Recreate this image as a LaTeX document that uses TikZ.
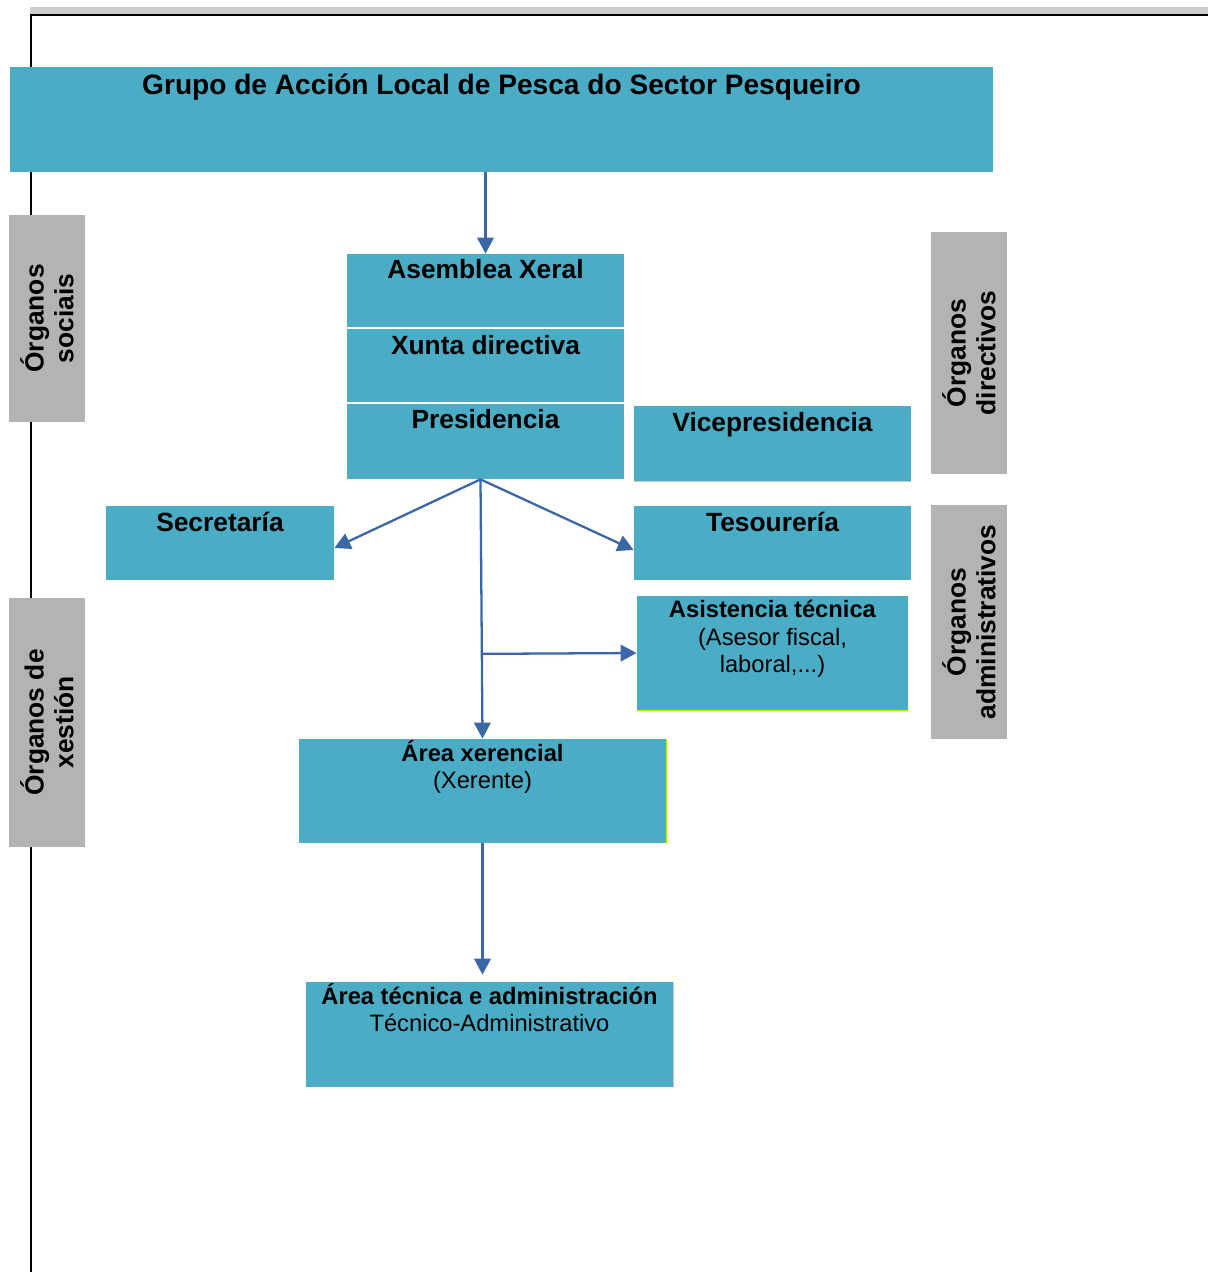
\documentclass[tikz,border=0pt]{standalone}
\usepackage{fontspec}
\setmainfont{Liberation Sans}
\usetikzlibrary{arrows.meta,positioning,fit,calc}
\definecolor{cbox}{HTML}{4BACC6}
\definecolor{cside}{HTML}{B3B3B3}
\definecolor{cbar}{HTML}{CCCCCC}
\definecolor{carrow}{HTML}{3A67A8}
\definecolor{cedge}{HTML}{C4F000}
\tikzset{
  box/.style={fill=cbox, inner sep=0pt},
  side/.style={fill=cside, inner sep=0pt},
  title/.style={font=\fontsize{16}{19}\selectfont\bfseries, inner sep=0pt},
  head/.style={font=\fontsize{15}{18}\selectfont\bfseries, inner sep=0pt},
  headsm/.style={font=\fontsize{13.5}{15.6}\selectfont, align=center, inner sep=0pt},
  sidetxt/.style={font=\fontsize{15}{17}\selectfont\bfseries, align=center, rotate=90, inner sep=0pt},
  pre/.style={-{Triangle[length=3.2mm,width=3.3mm]}, draw=carrow, line width=1.3pt},
  edge/.style={draw=cedge, line width=0.6pt},
}
\begin{document}
\begin{tikzpicture}[x=0.02cm, y=-0.02cm]
\useasboundingbox (0,0) rectangle (1208,1272);
% page frame
\fill[cbar] (30,7) rectangle (1208,14);
\draw[line width=1.2pt] (31,1272) -- (31,15) -- (1208,15);
% boxes
\node[box, fit={(10,67)(993,172)}] (grupo) {};
\node[box, fit={(347,254)(624,327)}] (asemblea) {};
\node[box, fit={(347,329)(624,402)}] (xunta) {};
\node[box, fit={(347,404)(624,479)}] (pres) {};
\node[box, fit={(634,406)(911,481)}] (vice) {};
\node[box, fit={(106,506)(334,580)}] (secr) {};
\node[box, fit={(634,506)(911,580)}] (tes) {};
\node[box, fit={(637,596)(908,710)}] (asist) {};
\node[box, fit={(299,739)(666,843)}] (xer) {};
\node[box, fit={(306,982)(673,1087)}] (tec) {};
\draw[edge] (vice.south west) -- (vice.south east);
\draw[edge] (asist.south west) -- (asist.south east);
\draw[edge] (xer.north east) -- (xer.south east);
\draw[edge] (tec.north east) -- (tec.south east);
% side panels
\node[side, fit={(9,215)(85,422)}] (sociais) {};
\node[side, fit={(9,598)(85,847)}] (xestion) {};
\node[side, fit={(931,232)(1007,474)}] (directivos) {};
\node[side, fit={(931,505)(1007,739)}] (admin) {};
\node[sidetxt] (sociaisT) at (sociais) {Órganos\\sociais};
\node[sidetxt] (xestionT) at (xestion) {Órganos de\\xestión};
\node[sidetxt] (directivosT) at (directivos) {Órganos\\directivos};
\node[sidetxt] (adminT) at (admin) {Órganos\\administrativos};
% labels (base = last line)
\node[title, anchor=base] (grupoT) at ($(grupo.north)+(0,28)$) {Grupo de Acción Local de Pesca do Sector Pesqueiro};
\node[head, anchor=base] (asembleaT) at ($(asemblea.north)+(0,25)$) {Asemblea Xeral};
\node[head, anchor=base] (xuntaT) at ($(xunta.north)+(0,26)$) {Xunta directiva};
\node[head, anchor=base] (presT) at ($(pres.north)+(0,25)$) {Presidencia};
\node[head, anchor=base] (viceT) at ($(vice.north)+(0,26)$) {Vicepresidencia};
\node[head, anchor=base] (secrT) at ($(secr.north)+(0,26)$) {Secretaría};
\node[head, anchor=base] (tesT) at ($(tes.north)+(0,26)$) {Tesourería};
\node[headsm, anchor=base] (asistT) at ($(asist.north)+(0,77)$) {\textbf{Asistencia técnica}\\(Asesor fiscal,\\laboral,...)};
\node[headsm, anchor=base] (xerT) at ($(xer.north)+(0,50)$) {\textbf{Área xerencial}\\(Xerente)};
\node[headsm, anchor=base] (tecT) at ($(tec.north)+(0,50)$) {\textbf{Área técnica e administración}\\Técnico-Administrativo};
% connectors
\draw[pre] (asemblea.north |- grupo.south) -- (asemblea.north);
\coordinate (fork) at ($(pres.south)+(-5,0)$);
\coordinate (tap) at ($(fork)!0.673!(xer.north)$);
\draw[pre] (fork) -- ([yshift=-0.1cm]secr.east);
\draw[pre] (fork) -- ([yshift=-0.14cm]tes.west);
\draw[pre] (fork) -- (xer.north);
\draw[pre] (tap) -- (asist.west);
\draw[pre, shorten >=0.14cm] (xer.south) -- (xer.south |- tec.north);
\end{tikzpicture}
\end{document}
